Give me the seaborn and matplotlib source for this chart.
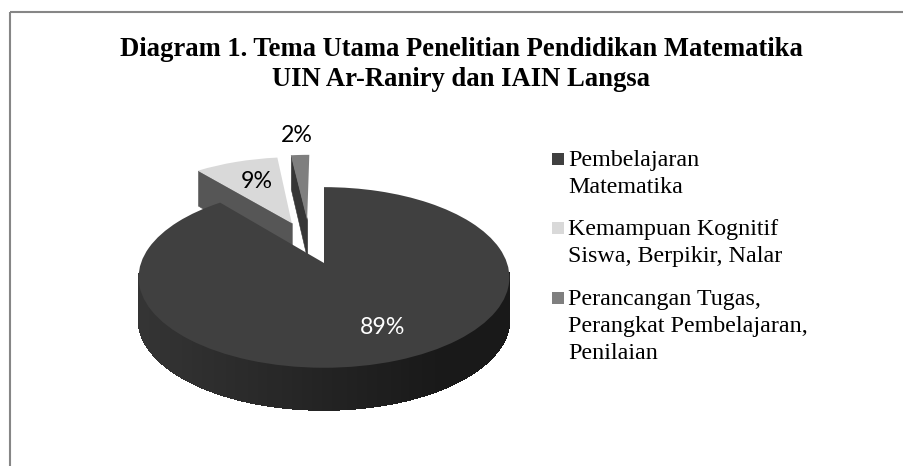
import matplotlib

matplotlib.use("Agg")
import matplotlib.pyplot as plt
import numpy as np
import seaborn as sns
from matplotlib.collections import PolyCollection
from matplotlib.patches import Rectangle
from matplotlib.transforms import Transform

# chart values
categories = [
    "Pembelajaran\nMatematika",
    "Kemampuan Kognitif\nSiswa, Berpikir, Nalar",
    "Perancangan Tugas,\nPerangkat Pembelajaran,\nPenilaian",
]
shares = [89, 9, 2]
title_lines = [
    "Diagram 1. Tema Utama Penelitian Pendidikan Matematika",
    "UIN Ar-Raniry dan IAIN Langsa",
]

top_colors = ["#404040", "#d9d9d9", "#7f7f7f"]
cut_colors = [None, "#565656", "#363636"]
label_colors = ["white", "black", "black"]
label_pos = [(383, 328), (257, 182), (297, 135)]
slice_offsets = [(0.0, 0.0), (-0.19, 0.49), (-0.10, 0.53)]
legend_y = [159, 228, 298]

# where the pie sits in the picture, in pixels
APEX_X, APEX_Y = 324, 263
SCALE_X, SCALE_Y = 183.0, 88.0
TILT = 0.16
DEPTH = 42


def project(xy):
    xy = np.atleast_2d(xy)
    w = 1 + TILT * xy[:, 1]
    return np.column_stack(
        [APEX_X + SCALE_X * xy[:, 0] / w, APEX_Y - SCALE_Y * xy[:, 1] / w]
    )


class TiltTransform(Transform):
    input_dims = 2
    output_dims = 2
    is_affine = False

    def transform_non_affine(self, values):
        return project(values)


def rim_point(center, angle):
    rad = np.deg2rad(angle)
    return np.array([center[0] + np.cos(rad), center[1] + np.sin(rad)])


def drop(y):
    return DEPTH / (1 + TILT * max(y, 0))


def draw_rim_wall(ax, wedge):
    # outer wall of the big slice, darker towards the right
    angles = np.linspace(wedge.theta1, wedge.theta2, 241)
    quads, shades = [], []
    for a0, a1 in zip(angles[:-1], angles[1:]):
        p0, p1 = rim_point(wedge.center, a0), rim_point(wedge.center, a1)
        q0, q1 = project(p0)[0], project(p1)[0]
        # the part behind the widest point of the rim is hidden anyway
        if q0[1] < APEX_Y + 11 and q1[1] < APEX_Y + 11:
            continue
        quads.append([q0, q1, q1 + [0, drop(p1[1])], q0 + [0, drop(p0[1])]])
        frac = ((q0[0] + q1[0]) / 2 - APEX_X + SCALE_X) / (2 * SCALE_X)
        shades.append(0.205 - 0.105 * min(frac / 0.8, 1))
    colors = [str(s) for s in shades]
    ax.add_collection(
        PolyCollection(
            quads, facecolors=colors, edgecolors=colors,
            linewidths=0.8, antialiaseds=False, zorder=6,
        )
    )


def draw_cut_face(ax, wedge, color, zorder):
    # flat side of a pulled-out slice, facing the viewer on its left edge
    corner = rim_point(wedge.center, wedge.theta2)
    q0 = project(wedge.center)[0]
    q1 = project(corner)[0]
    quad = [q0, q1, q1 + [0, drop(corner[1])], q0 + [0, drop(wedge.center[1])]]
    ax.add_collection(
        PolyCollection([quad], facecolors=color, edgecolors=color, linewidths=0.4, zorder=zorder)
    )


sns.set_theme(style="white")
plt.rcParams["font.family"] = ["Liberation Serif", "DejaVu Serif"]

fig = plt.figure(figsize=(9.04, 4.66), dpi=100)
ax = fig.add_axes([0, 0, 1, 1])

wedges, _ = ax.pie(
    shares,
    colors=top_colors,
    startangle=90,
    counterclock=False,
    wedgeprops={"linewidth": 0},
)
ax.set_aspect("auto")
ax.set_xlim(0, 904)
ax.set_ylim(466, 0)
ax.axis("off")

tilt = TiltTransform() + ax.transData
orders = [8, 4, 2]
for wedge, offset, cut, order in zip(wedges, slice_offsets, cut_colors, orders):
    wedge.set_center(offset)
    wedge.set_transform(tilt)
    wedge.set_zorder(order + 1)
    if cut is not None:
        draw_cut_face(ax, wedge, cut, order)
draw_rim_wall(ax, wedges[0])

for share, pos, color in zip(shares, label_pos, label_colors):
    ax.text(
        pos[0], pos[1], f"{share}%", color=color, fontsize=16.7,
        family=["Lato", "DejaVu Sans"], ha="center", va="center", zorder=12,
    )

# frame runs off the top right and bottom of the picture
ax.add_patch(Rectangle((10, 12), 1000, 600, fill=False, edgecolor="#868686", linewidth=1.5, zorder=1))

ax.text(461, 49, title_lines[0], fontsize=19.2, fontweight="bold", color="black", ha="center", va="center")
ax.text(461, 80, title_lines[1], fontsize=19.2, fontweight="bold", color="black", ha="center", va="center")

for label, color, y in zip(categories, top_colors, legend_y):
    ax.add_patch(Rectangle((552, y - 6), 12, 12, facecolor=color, edgecolor="none"))
    ax.text(
        568, y - 9, label, fontsize=17.3, color="black", ha="left", va="top",
        linespacing=1.36,
    )

fig.savefig("out.png", dpi=100)
